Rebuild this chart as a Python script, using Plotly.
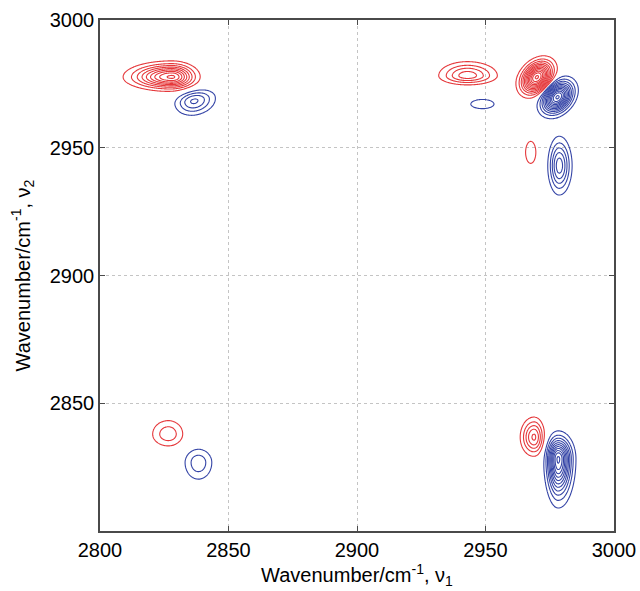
import numpy as np
import plotly.graph_objects as go

# Peak parameters (wavenumbers in cm^-1)
peak_x    = [2828.0, 2836.6, 2943.0, 2948.8, 2970.0, 2978.0, 2967.6, 2978.7, 2826.6, 2838.3, 2968.9, 2978.3]
peak_y    = [2977.7, 2968.3, 2978.2, 2967.1, 2977.6, 2969.8, 2948.2, 2943.0, 2837.9, 2826.8, 2836.7, 2828.2]
peak_amp  = [9.2, -4.2, 4.6, -1.4, 12.2, -12.2, 1.4, -5.6, 2.7, -2.7, 5.2, -11.2]
ext_left  = [19.0, 7.6, 11.2, 4.5, 9.5, 9.5, 2.0, 4.5, 6.1, 5.2, 5.4, 5.7]
ext_right = [11.0, 8.4, 11.6, 4.5, 9.5, 9.5, 2.0, 5.0, 5.6, 5.2, 4.3, 6.9]
ext_down  = [5.7, 5.5, 3.6, 1.8, 6.8, 6.8, 4.3, 11.5, 4.6, 6.5, 7.5, 19.2]
ext_up    = [6.3, 4.3, 5.5, 1.8, 6.8, 6.8, 4.3, 11.5, 5.3, 5.2, 7.9, 11.0]
peak_tilt = [0, 12, 0, 0, 48, 48, 0, 0, 0, 0, 0, 0]

x_ticks = [2800, 2850, 2900, 2950, 3000]
y_ticks = [2850, 2900, 2950, 3000]

# grid (fine near the peaks, coarse elsewhere)
gx = np.concatenate([np.arange(2800, 2852, 0.3), np.arange(2852, 2925, 2.0), np.arange(2925, 3000.01, 0.3)])
gy = np.concatenate([np.arange(2800, 2852, 0.3), np.arange(2852, 2925, 2.0), np.arange(2925, 3000.01, 0.3)])
X, Y = np.meshgrid(gx, gy)
Z = np.zeros_like(X)
for i in range(len(peak_x)):
    a = abs(peak_amp[i])
    k = np.sqrt(2 * np.log(a))
    th = np.deg2rad(peak_tilt[i])
    dx = X - peak_x[i]
    dy = Y - peak_y[i]
    u = dx * np.cos(th) + dy * np.sin(th)
    v = -dx * np.sin(th) + dy * np.cos(th)
    su = np.where(u < 0, ext_left[i], ext_right[i]) / k
    sv = np.where(v < 0, ext_down[i], ext_up[i]) / k
    Z += peak_amp[i] * np.exp(-0.5 * ((u / su) ** 2 + (v / sv) ** 2))
Z = Z.astype(np.float32)

RED = "#e5383b"
BLUE = "#3444a6"

fig = go.Figure()
for sign, col in [(1, RED), (-1, BLUE)]:
    fig.add_trace(go.Contour(
        x=gx, y=gy, z=sign * Z,
        contours=dict(start=1, end=13, size=1, coloring="lines"),
        colorscale=[[0, col], [1, col]],
        line=dict(width=1.1),
        showscale=False, hoverinfo="skip",
    ))

FONT = "Liberation Sans, Arial"
axis_common = dict(
    showline=True, linecolor="#4a4a4a", linewidth=1.5, mirror="ticks",
    ticks="inside", ticklen=5, tickcolor="#4a4a4a",
    showgrid=True, gridcolor="#c4c4c4", griddash="dot", gridwidth=1,
    zeroline=False, tickfont=dict(family=FONT, size=20, color="black"),
)
fig.update_layout(
    width=640, height=591,
    margin=dict(l=100, r=26, t=20, b=60),
    paper_bgcolor="white", plot_bgcolor="white",
    showlegend=False,
    xaxis=dict(range=[2800, 3000], tickvals=x_ticks, automargin=False,
               title=dict(text="Wavenumber/cm<sup>-1</sup>, ν<sub>1</sub>", standoff=3,
                          font=dict(family=FONT, size=20, color="black")),
               **axis_common),
    yaxis=dict(range=[2800, 3000], tickvals=y_ticks, automargin=False,
               title=dict(text="Wavenumber/cm<sup>-1</sup>, ν<sub>2</sub>", standoff=14,
                          font=dict(family=FONT, size=20, color="black")),
               **axis_common),
)
fig.write_html("out.html")
